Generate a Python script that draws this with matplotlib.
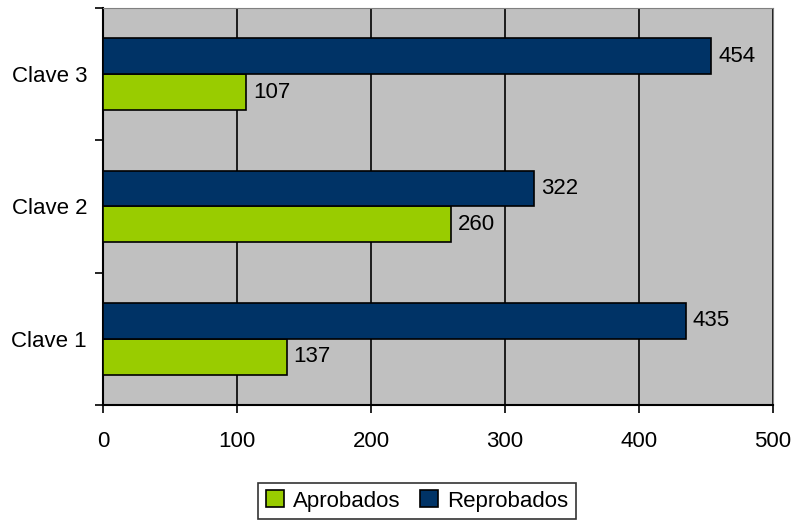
import matplotlib.pyplot as plt
import numpy as np

categories = ["Clave 1", "Clave 2", "Clave 3"]
aprobados = [137, 260, 107]
reprobados = [435, 322, 454]

plt.rcParams['font.family'] = ['Liberation Sans', 'DejaVu Sans']
plt.rcParams['font.size'] = 16

fig = plt.figure(figsize=(7.93, 5.29), dpi=100)
ax = fig.add_axes([0.1299, 0.2344, 0.8449, 0.7505])
ax.set_facecolor('#C0C0C0')

y = np.arange(len(categories))
h = 0.27
b1 = ax.barh(y - h / 2, aprobados, height=h, color='#99CC00', edgecolor='black', linewidth=1.2, label='Aprobados', zorder=3)
b2 = ax.barh(y + h / 2, reprobados, height=h, color='#003366', edgecolor='black', linewidth=1.2, label='Reprobados', zorder=3)

for bars in (b1, b2):
    for rect in bars:
        w = rect.get_width()
        ax.text(w + 5, rect.get_y() + rect.get_height() / 2, str(int(w)),
                va='center', ha='left', zorder=4)

ax.set_xlim(0, 500)
ax.set_ylim(-0.5, 2.5)
ax.set_xticks([0, 100, 200, 300, 400, 500])
ax.xaxis.grid(True, color='black', linewidth=1.2, zorder=1)
ax.set_axisbelow(True)

ax.set_yticks([-0.5, 0.5, 1.5, 2.5])
ax.set_yticklabels([])
ax.set_yticks(y, minor=True)
ax.set_yticklabels(categories, minor=True)
ax.tick_params(axis='y', which='minor', length=0, pad=11.5)
ax.tick_params(axis='y', which='major', length=6, width=1.2, direction='out')
ax.tick_params(axis='x', length=6, width=1.2, direction='out', pad=13)

ax.spines['left'].set_linewidth(1.5)
ax.spines['bottom'].set_linewidth(1.5)
ax.spines['top'].set_color('#808080')
ax.spines['right'].set_color('#808080')

leg = fig.legend(handles=[b1, b2], loc='center', bbox_to_anchor=(0.526, 0.053),
                 ncol=2, frameon=True, fancybox=False, edgecolor='black',
                 handlelength=0.8, handleheight=0.8, handletextpad=0.4,
                 columnspacing=0.9, borderpad=0.35, borderaxespad=0)
leg.get_frame().set_linewidth(1.2)

fig.savefig('out.png', dpi=100)
